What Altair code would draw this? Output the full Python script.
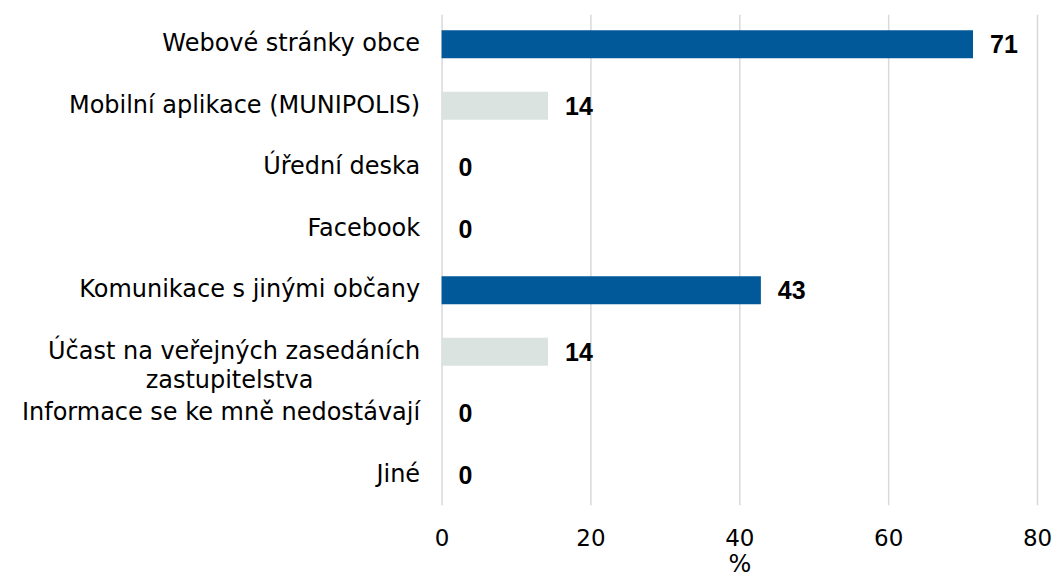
import altair as alt
import pandas as pd

categories = [
    "Webové stránky obce",
    "Mobilní aplikace (MUNIPOLIS)",
    "Úřední deska",
    "Facebook",
    "Komunikace s jinými občany",
    "Účast na veřejných zasedáních zastupitelstva",
    "Informace se ke mně nedostávají",
    "Jiné",
]
values = [71.4, 14.3, 0, 0, 42.9, 14.3, 0, 0]

df = pd.DataFrame({"category": categories, "value": values})

FONT = "DejaVu Sans"
NB = "\u00a0" * 14 + "\u200b"
label_expr = (
    "datum.label == 'Účast na veřejných zasedáních zastupitelstva' ? "
    f"['Účast na veřejných zasedáních', 'zastupitelstva{NB}'] : datum.label"
)

y_enc = alt.Y(
    "category:N",
    sort=categories,
    title=None,
    scale=alt.Scale(paddingInner=0.545, paddingOuter=0.26),
    axis=alt.Axis(
        labelExpr=label_expr,
        labelFont=FONT,
        labelFontSize=24,
        labelColor="#000000",
        labelPadding=22,
        labelLineHeight=29,
        labelLimit=500,
        ticks=False,
        domain=False,
        minExtent=434,
        maxExtent=434,
    ),
)

x_enc = alt.X(
    "value:Q",
    title="%",
    scale=alt.Scale(domain=[0, 80]),
    axis=alt.Axis(
        values=[0, 20, 40, 60, 80],
        labelFont=FONT,
        labelFontSize=23,
        labelColor="#000000",
        labelPadding=23,
        labelFlush=False,
        titleFont=FONT,
        titleFontSize=24,
        titleFontWeight="normal",
        titleColor="#000000",
        titlePadding=2,
        ticks=False,
        domain=False,
        grid=True,
        gridColor="#d9d9d9",
        gridWidth=1.5,
    ),
)

bars = alt.Chart(df).mark_bar().encode(
    x=x_enc,
    y=y_enc,
    color=alt.condition(
        alt.datum.value > 20, alt.value("#02599a"), alt.value("#dbe3e0")
    ),
)

text = alt.Chart(df).mark_text(
    align="left",
    baseline="middle",
    dx=17,
    dy=1,
    font="Liberation Sans",
    fontSize=25,
    fontWeight="bold",
    color="#000000",
).encode(
    x="value:Q",
    y=alt.Y("category:N", sort=categories),
    text=alt.Text("value:Q", format=".0f"),
)

chart = (
    alt.layer(bars, text)
    .properties(width=596, height=491, padding={"left": 0, "top": 6, "right": 0, "bottom": 0})
    .configure_view(stroke=None)
)

chart.save("out.html", embed_options={"renderer": "svg", "actions": False})
